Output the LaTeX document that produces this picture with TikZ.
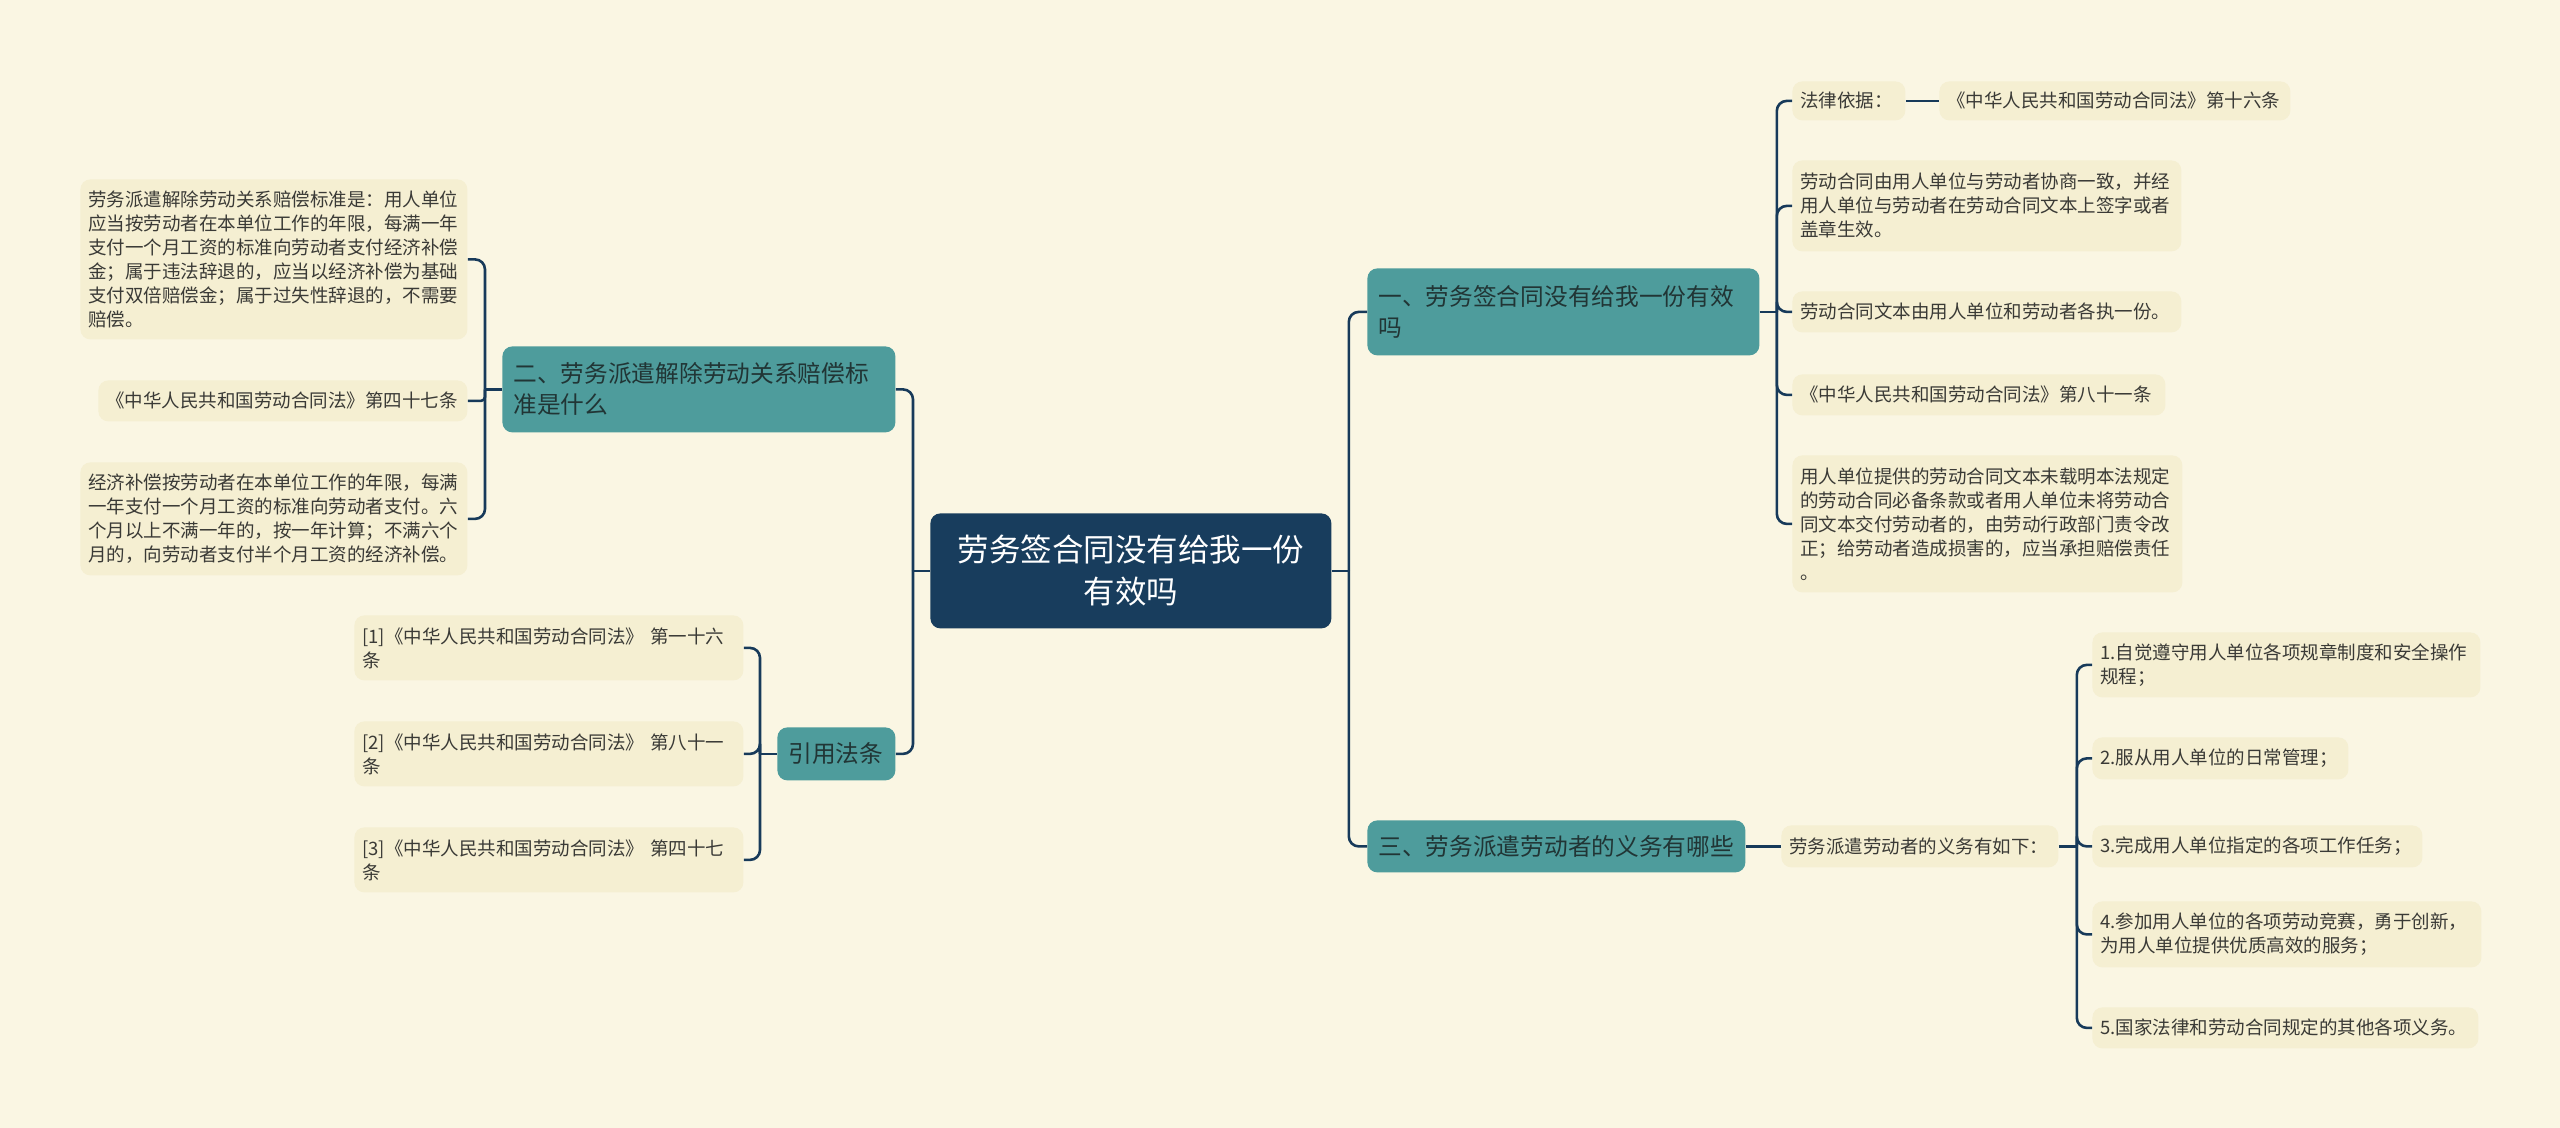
\documentclass[tikz,border=0pt]{standalone}
\usepackage{fontspec}
\setmainfont{Noto Sans CJK SC}
\definecolor{bgc}{HTML}{FAF6E3}
\definecolor{leaffill}{HTML}{F5EFD2}
\definecolor{leaftext}{HTML}{3A3A36}
\definecolor{brteal}{HTML}{4E9C9C}
\definecolor{brtext}{HTML}{213535}
\definecolor{rootblue}{HTML}{183D5D}
\definecolor{linec}{HTML}{173A5A}
\tikzset{
  base/.style={anchor=north west, rounded corners=5pt, inner ysep=0pt, align=left},
  leafbox/.style={base, fill=leaffill, text=leaftext, inner xsep=4pt,
     font=\fontsize{9.25pt}{12pt}\selectfont},
  branchbox/.style={base, fill=brteal, text=brtext, inner xsep=5.5pt,
     font=\fontsize{11.85pt}{15.5pt}\selectfont},
  rootbox/.style={base, fill=rootblue, text=white, inner xsep=10pt, align=center,
     font=\fontsize{15.75pt}{21pt}\selectfont},
  conn/.style={draw=linec, line width=1.3pt, rounded corners=5pt},
}
\begin{document}
\begin{tikzpicture}[x=0.5pt, y=-0.5pt]
\fill[bgc] (0,0) rectangle (2560,1128);
\useasboundingbox (0,0) rectangle (2560,1128);

% root
\node[rootbox, text width=180.5pt, minimum height=57.5pt] (root) at (930,513)
  {劳务签合同没有给我一份\\有效吗};

% branches
\node[branchbox, text width=185pt, minimum height=43.5pt] (b1) at (1367,268)
  {一、劳务签合同没有给我一份有效\\吗};
\node[branchbox, text width=178pt, minimum height=26pt] (b3) at (1367,820)
  {三、劳务派遣劳动者的义务有哪些};
\node[branchbox, text width=185.5pt, minimum height=43pt] (b2) at (502,346)
  {二、劳务派遣解除劳动关系赔偿标\\准是什么};
\node[branchbox, text width=48pt, minimum height=26.5pt] (cite) at (777,727)
  {引用法条};

% left leaves of b2
\node[leafbox, text width=185.5pt, minimum height=80pt] (l1) at (80,179)
  {劳务派遣解除劳动关系赔偿标准是：用人单位\\应当按劳动者在本单位工作的年限，每满一年\\支付一个月工资的标准向劳动者支付经济补偿\\金；属于违法辞退的，应当以经济补偿为基础\\支付双倍赔偿金；属于过失性辞退的，不需要\\赔偿。};
\node[leafbox, text width=176.5pt, minimum height=20.5pt] (l2) at (98,380)
  {《中华人民共和国劳动合同法》第四十七条};
\node[leafbox, text width=185.5pt, minimum height=56.5pt] (l3) at (80,462)
  {经济补偿按劳动者在本单位工作的年限，每满\\一年支付一个月工资的标准向劳动者支付。六\\个月以上不满一年的，按一年计算；不满六个\\月的，向劳动者支付半个月工资的经济补偿。};

% cite leaves
\node[leafbox, text width=186.5pt, minimum height=32.5pt] (r1) at (354,615)
  {[1]《中华人民共和国劳动合同法》 第一十六\\条};
\node[leafbox, text width=186.5pt, minimum height=32.5pt] (r2) at (354,721)
  {[2]《中华人民共和国劳动合同法》 第八十一\\条};
\node[leafbox, text width=186.5pt, minimum height=32.5pt] (r3) at (354,827)
  {[3]《中华人民共和国劳动合同法》 第四十七\\条};

% b1 leaves
\node[leafbox, text width=48.5pt, minimum height=19.5pt] (law) at (1792,81)
  {法律依据：};
\node[leafbox, text width=167.5pt, minimum height=19.5pt] (art16) at (1939,81)
  {《中华人民共和国劳动合同法》第十六条};
\node[leafbox, text width=186.5pt, minimum height=45.5pt] (k2) at (1792,160)
  {劳动合同由用人单位与劳动者协商一致，并经\\用人单位与劳动者在劳动合同文本上签字或者\\盖章生效。};
\node[leafbox, text width=186.5pt, minimum height=20.5pt] (k3) at (1792,291)
  {劳动合同文本由用人单位和劳动者各执一份。};
\node[leafbox, text width=178.5pt, minimum height=20.5pt] (k4) at (1792,374)
  {《中华人民共和国劳动合同法》第八十一条};
\node[leafbox, text width=187pt, minimum height=68.5pt] (k5) at (1792,455)
  {用人单位提供的劳动合同文本未载明本法规定\\的劳动合同必备条款或者用人单位未将劳动合\\同文本交付劳动者的，由劳动行政部门责令改\\正；给劳动者造成损害的，应当承担赔偿责任\\。};

% b3 leaves
\node[leafbox, text width=130.5pt, minimum height=21pt] (yiwu) at (1781,825)
  {劳务派遣劳动者的义务有如下：};
\node[leafbox, text width=186pt, minimum height=32.5pt] (d1) at (2092,632)
  {1.自觉遵守用人单位各项规章制度和安全操作\\规程；};
\node[leafbox, text width=120pt, minimum height=21pt] (d2) at (2092,737)
  {2.服从用人单位的日常管理；};
\node[leafbox, text width=157pt, minimum height=21pt] (d3) at (2092,825)
  {3.完成用人单位指定的各项工作任务；};
\node[leafbox, text width=186.5pt, minimum height=33pt] (d4) at (2092,901)
  {4.参加用人单位的各项劳动竞赛，勇于创新，\\为用人单位提供优质高效的服务；};
\node[leafbox, text width=185pt, minimum height=20.5pt] (d5) at (2092,1007)
  {5.国家法律和劳动合同规定的其他各项义务。};

% junctions
\coordinate (jR) at ([xshift=8.5pt]root.east);
\coordinate (jL) at ([xshift=-8.5pt]root.west);
\coordinate (j1) at ([xshift=8.5pt]b1.east);
\coordinate (j2) at ([xshift=-8.5pt]b2.west);
\coordinate (jc) at ([xshift=-8.5pt]cite.west);
\coordinate (jy) at ([xshift=9pt]yiwu.east);

% connectors
\draw[conn] (root.east) -- (jR);
\draw[conn] (jR) |- (b1.west);
\draw[conn] (jR) |- (b3.west);
\draw[conn] (root.west) -- (jL);
\draw[conn] (jL) |- (b2.east);
\draw[conn] (jL) |- (cite.east);

\draw[conn] (b2.west) -- (j2);
\draw[conn] (j2) |- (l1.east);
\draw[conn, rounded corners=2pt] (j2) |- (l2.east);
\draw[conn] (j2) |- (l3.east);

\draw[conn] (cite.west) -- (jc);
\draw[conn] (jc) |- (r1.east);
\draw[conn] (jc) |- (r2.east);
\draw[conn] (jc) |- (r3.east);

\draw[conn] (b1.east) -- (j1);
\draw[conn] (j1) |- (law.west);
\draw[conn] (j1) |- (k2.west);
\draw[conn] (j1) |- (k3.west);
\draw[conn] (j1) |- (k4.west);
\draw[conn] (j1) |- (k5.west);
\draw[conn] (law.east) -- (art16.west);

\draw[conn] (b3.east) -- (yiwu.west);
\draw[conn] (yiwu.east) -- (jy);
\draw[conn] (jy) |- (d1.west);
\draw[conn] (jy) |- (d2.west);
\draw[conn] (jy) |- (d3.west);
\draw[conn] (jy) |- (d4.west);
\draw[conn] (jy) |- (d5.west);
\end{tikzpicture}
\end{document}
